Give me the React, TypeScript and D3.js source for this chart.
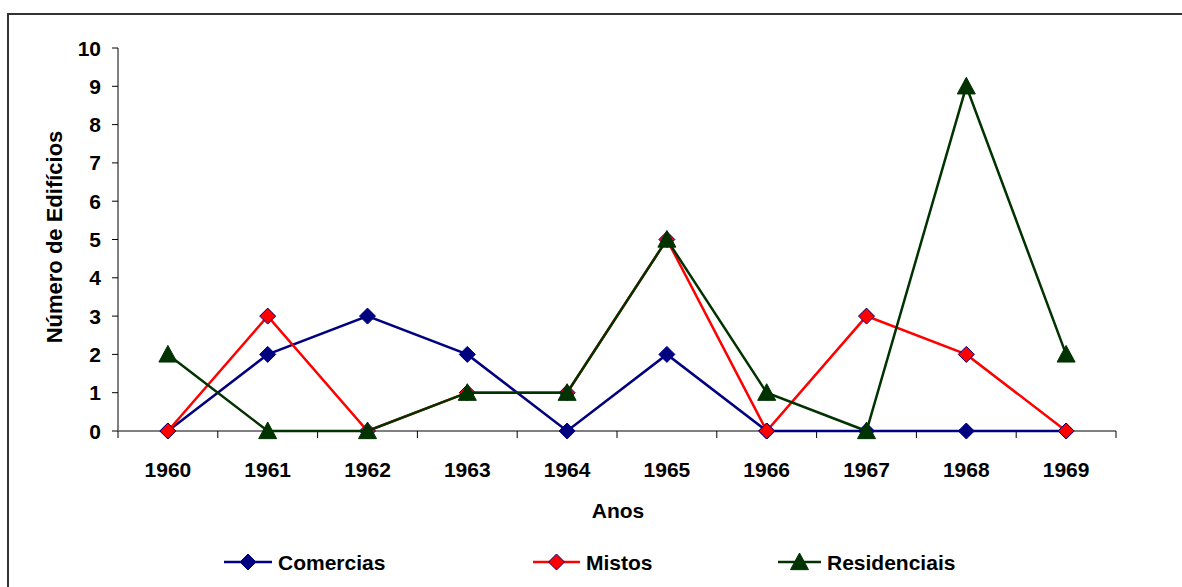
import * as d3 from "d3";

const years = ["1960", "1961", "1962", "1963", "1964", "1965", "1966", "1967", "1968", "1969"];
const comercias = [0, 2, 3, 2, 0, 2, 0, 0, 0, 0];
const mistos = [0, 3, 0, 1, 1, 5, 0, 3, 2, 0];
const residenciais = [2, 0, 0, 1, 1, 5, 1, 0, 9, 2];
const yTicks = [0, 1, 2, 3, 4, 5, 6, 7, 8, 9, 10];

const W = 1182;
const H = 587;
const FONT = "'Liberation Sans', Arial, sans-serif";

const series = [
  { name: "Comercias", values: comercias, color: "#000080", marker: "diamond" },
  { name: "Mistos", values: mistos, color: "#ff0000", marker: "diamond" },
  { name: "Residenciais", values: residenciais, color: "#003300", marker: "triangle" },
];

function Marker({ type, x, y, color }: { type: string; x: number; y: number; color: string }) {
  if (type === "diamond") {
    const r = 8;
    return (
      <path
        d={`M${x},${y - r}L${x + r},${y}L${x},${y + r}L${x - r},${y}Z`}
        fill={color}
        stroke={color === "#ff0000" ? "#000080" : color}
        strokeWidth={1}
      />
    );
  }
  const s = 9;
  return (
    <path
      d={`M${x},${y - s}L${x + s},${y + s * 0.85}L${x - s},${y + s * 0.85}Z`}
      fill={color}
      stroke={color}
      strokeWidth={1}
    />
  );
}

export default function App() {
  const left = 118;
  const right = 1116;
  const top = 48;
  const bottom = 431;

  const x = d3.scaleBand().domain(years).range([left, right]);
  const y = d3.scaleLinear().domain([0, 10]).range([bottom, top]);
  const cx = (yr: string) => (x(yr) ?? 0) + x.bandwidth() / 2;

  const line = d3
    .line<number>()
    .x((_, i) => cx(years[i]))
    .y(d => y(d));

  const legendItems = [
    { ...series[0], lx: 224, lw: 48 },
    { ...series[1], lx: 533, lw: 47 },
    { ...series[2], lx: 778, lw: 43 },
  ];

  return (
    <svg width={W} height={H} style={{ position: "absolute", left: 0, top: 0 }} fontFamily={FONT}>
      <rect x={0} y={0} width={W} height={H} fill="#fff" />
      <rect x={8} y={14} width={W + 20} height={H + 20} fill="none" stroke="#333" strokeWidth={2} />

      {/* y axis */}
      <line x1={left} x2={left} y1={top} y2={bottom} stroke="#000" strokeWidth={1} />
      {yTicks.map(t => (
        <g key={t}>
          <line x1={left - 6} x2={left} y1={y(t)} y2={y(t)} stroke="#000" />
          <text x={left - 17} y={y(t)} dy="0.36em" textAnchor="end" fontSize={21} fontWeight="bold">
            {t}
          </text>
        </g>
      ))}

      {/* x axis */}
      <line x1={left} x2={right} y1={bottom} y2={bottom} stroke="#808080" strokeWidth={2} />
      {years.map(yr => (
        <line key={"t" + yr} x1={x(yr)! + x.bandwidth()} x2={x(yr)! + x.bandwidth()} y1={bottom} y2={bottom + 7} stroke="#000" />
      ))}
      <line x1={left} x2={left} y1={bottom} y2={bottom + 7} stroke="#000" />
      {years.map(yr => (
        <text key={"l" + yr} x={cx(yr)} y={477} textAnchor="middle" fontSize={21} fontWeight="bold">
          {yr}
        </text>
      ))}

      <text x={618} y={518} textAnchor="middle" fontSize={21} fontWeight="bold">
        Anos
      </text>
      <text
        transform={`translate(62,237) rotate(-90)`}
        textAnchor="middle"
        fontSize={22}
        fontWeight="bold"
      >
        Número de Edifícios
      </text>

      {/* series */}
      {series.map(s => (
        <g key={s.name}>
          <path d={line(s.values) ?? ""} fill="none" stroke={s.color} strokeWidth={2.5} />
          {s.values.map((v, i) => (
            <Marker key={i} type={s.marker} x={cx(years[i])} y={y(v)} color={s.color} />
          ))}
        </g>
      ))}

      {/* legend */}
      {legendItems.map(it => (
        <g key={"lg" + it.name}>
          <line x1={it.lx} x2={it.lx + it.lw} y1={562} y2={562} stroke={it.color} strokeWidth={2.5} />
          <Marker type={it.marker} x={it.lx + it.lw / 2} y={562} color={it.color} />
          <text x={it.lx + it.lw + 6} y={562} dy="0.36em" fontSize={21} fontWeight="bold">
            {it.name}
          </text>
        </g>
      ))}
    </svg>
  );
}
